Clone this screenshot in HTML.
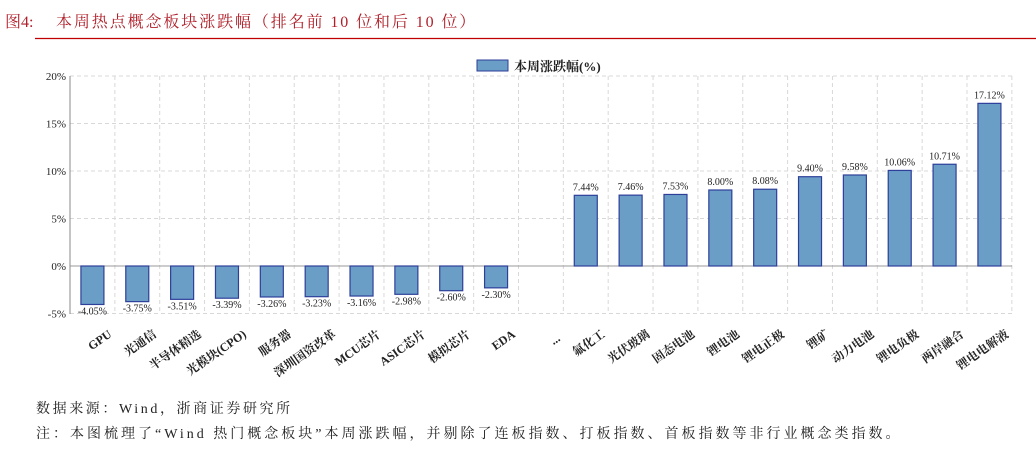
<!DOCTYPE html>
<html><head><meta charset="utf-8"><style>
body{margin:0;background:#fff;width:1036px;height:452px;overflow:hidden}
svg{display:block}
</style></head><body>
<svg width="1036" height="452" xmlns="http://www.w3.org/2000/svg" font-family="'Liberation Serif','Noto Serif CJK SC',serif">
<text x="5" y="27" font-size="16" fill="#b0202a">图4:</text>
<text x="56" y="27" font-size="16" fill="#b0202a" letter-spacing="1.9">本周热点概念板块涨跌幅（排名前 10 位和后 10 位）</text>
<line x1="35" y1="38.5" x2="1036" y2="38.5" stroke="#c00000" stroke-width="1.3"/>
<g id="plot"></g>
<text x="36" y="413" font-size="14" fill="#222" letter-spacing="2.6">数据来源：Wind，浙商证券研究所</text>
<text x="36" y="438" font-size="14" fill="#222" letter-spacing="3">注：本图梳理了“Wind 热门概念板块”本周涨跌幅，并剔除了连板指数、打板指数、首板指数等非行业概念类指数。</text>
</svg>
<script>
const names=["GPU","光通信","半导体精选","光模块(CPO)","服务器","深圳国资改革","MCU芯片","ASIC芯片","模拟芯片","EDA","...","氟化工","光伏玻璃","固态电池","锂电池","锂电正极","锂矿","动力电池","锂电负极","两岸融合","锂电电解液"];
const vals=[-4.05,-3.75,-3.51,-3.39,-3.26,-3.23,-3.16,-2.98,-2.60,-2.30,null,7.44,7.46,7.53,8.00,8.08,9.40,9.58,10.06,10.71,17.12];
const x0=70,sw=44.85,y=v=>266-v*9.5;let s='';
for(let v=-5;v<=20;v+=5){if(v!==0)s+=`<line x1="70" x2="1012" y1="${y(v)}" y2="${y(v)}" stroke="#d8d8d8" stroke-dasharray="4,3"/>`;
s+=`<text x="66" y="${y(v)+4}" font-size="11" text-anchor="end" fill="#222">${v}%</text>`;}
for(let i=1;i<=21;i++){const xx=x0+i*sw;s+=`<line x1="${xx}" x2="${xx}" y1="76" y2="313" stroke="#d8d8d8" stroke-dasharray="4,3"/>`;}
s+=`<line x1="70" x2="70" y1="76" y2="314" stroke="#888"/><line x1="70" x2="1012" y1="266" y2="266" stroke="#999"/>`;
vals.forEach((v,i)=>{const cx=x0+(i+0.5)*sw;
if(v!==null){const t=Math.min(y(v),266),h=Math.abs(y(v)-266);
s+=`<rect x="${cx-11.5}" y="${t}" width="23" height="${h}" fill="#6a9ec7" stroke="#2e3f9a" stroke-width="1.2"/>`;
const ly=v>0?y(v)-5:y(v)+10;s+=`<text x="${cx}" y="${ly}" font-size="10" text-anchor="middle" fill="#222">${v.toFixed(2)}%</text>`;}
s+=`<text transform="translate(${cx+20},${i==10?340:336}) rotate(-35)" font-size="12" font-weight="bold" text-anchor="end" fill="#222">${names[i]}</text>`;});
s+=`<rect x="477" y="60" width="31" height="11" fill="#6a9ec7" stroke="#2e3f9a"/><text x="514" y="71" font-size="13" font-weight="bold" fill="#222">本周涨跌幅(%)</text>`;
document.getElementById('plot').innerHTML=s;
</script>
</body></html>
